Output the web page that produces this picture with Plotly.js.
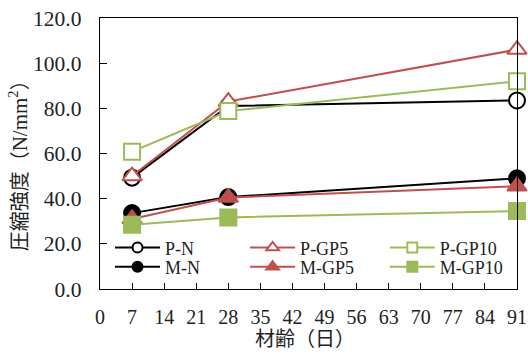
<!DOCTYPE html>
<html><head><meta charset="utf-8">
<script src="https://cdn.plot.ly/plotly-3.0.1.min.js"></script>
<style>body{margin:0;background:#fff}#c{width:528px;height:355px}</style>
</head><body><div id="c"></div>
<script>
const days = [7, 28, 91];
const seriesNames = ["P-N", "P-GP5", "P-GP10", "M-N", "M-GP5", "M-GP10"];
const pN = [49.3, 81.0, 83.5];
const pGP5 = [50.0, 83.0, 106.0];
const pGP10 = [60.8, 78.8, 92.0];
const mN = [33.6, 40.7, 49.0];
const mGP5 = [31.0, 40.5, 45.5];
const mGP10 = [28.5, 31.7, 34.5];
const xTicks = [0, 7, 14, 21, 28, 35, 42, 49, 56, 63, 70, 77, 84, 91];
const yTicks = [0, 20, 40, 60, 80, 100, 120];
const xTitle = "材齢（日）";
const yTitle = "圧縮強度（<span style=\"font-family:Liberation Serif;font-size:21px\">N/mm<sup>2</sup></span>）";

const black = "#000000", red = "#C0504D", green = "#9BBB59";
const series = [
  {name: seriesNames[0], y: pN, color: black, symbol: "circle", filled: false},
  {name: seriesNames[1], y: pGP5, color: red, symbol: "triangle-up", filled: false},
  {name: seriesNames[2], y: pGP10, color: green, symbol: "square", filled: false},
  {name: seriesNames[3], y: mN, color: black, symbol: "circle", filled: true},
  {name: seriesNames[4], y: mGP5, color: red, symbol: "triangle-up", filled: true},
  {name: seriesNames[5], y: mGP10, color: green, symbol: "square", filled: true}
];
const data = [];
series.forEach(s => {
  data.push({x: days, y: s.y, name: s.name, type: "scatter", mode: "lines+markers", showlegend: false,
    line: {color: s.color, width: 2},
    marker: {symbol: s.symbol, size: s.symbol === "triangle-up" ? 17 : 16, color: s.filled ? s.color : "#ffffff",
      line: {color: s.color, width: 2}}, cliponaxis: false});
});
// legend-only entries (no data marks drawn)
series.forEach((s, i) => {
  data.push({x: [null], y: [null], yaxis: "y2", name: s.name, type: "scatter", mode: "lines+markers", showlegend: true,
    legend: i === 0 ? "legend" : "legend" + (i + 1),
    line: {color: s.color, width: 2},
    marker: {symbol: s.symbol, size: s.symbol === "triangle-up" ? 11 : 10, color: s.filled ? s.color : "#ffffff",
      line: {color: s.color, width: 2}}});
});

const serif = "Liberation Serif, Times New Roman, serif";
const cjk = "Noto Sans CJK JP, sans-serif";
const colX = [0.024, 0.348, 0.683];
const rowY = [0.152, 0.081];
function leg(i) {
  return {orientation: "h", bgcolor: "rgba(0,0,0,0)", font: {family: serif, size: 18, color: "#222"},
    itemwidth: 45,
    x: colX[i % 3], y: rowY[Math.floor(i / 3)], xanchor: "left", yanchor: "middle", borderwidth: 0};
}
const layout = {
  width: 528, height: 355,
  margin: {l: 100, r: 11, t: 18, b: 66},
  paper_bgcolor: "#fff", plot_bgcolor: "#fff",
  font: {family: serif, size: 20, color: "#222"},
  showlegend: true,
  xaxis: {range: [0, 91], tickvals: xTicks, ticktext: xTicks.map(String), ticks: "inside", ticklen: 6, tickcolor: "#000",
    showline: true, linecolor: "#000", linewidth: 1.3, mirror: true, showgrid: false, zeroline: false, automargin: false,
    ticklabelstandoff: 10,
    tickfont: {family: serif, size: 20, color: "#222"}},
  yaxis: {range: [0, 120], tickvals: yTicks, ticktext: yTicks.map(v => v.toFixed(1)), ticks: "outside", ticklen: 13, tickcolor: "rgba(0,0,0,0)",
    showline: true, linecolor: "#000", linewidth: 1.3, mirror: true, showgrid: false, zeroline: false, automargin: false,
    tickfont: {family: serif, size: 21.5, color: "#222"}},
  yaxis2: {range: [0, 120], overlaying: "y", side: "left", tickvals: yTicks, ticks: "inside", ticklen: 7, tickcolor: "#000", tickwidth: 1,
    showticklabels: false, showline: false, showgrid: false, zeroline: false, automargin: false},
  annotations: [
    {text: xTitle, xref: "paper", yref: "paper", x: 0.492, y: -0.178, xanchor: "center", yanchor: "middle", showarrow: false,
      font: {family: cjk, size: 20, color: "#222"}},
    {text: yTitle, xref: "paper", yref: "paper", x: -0.196, y: 0.472, xanchor: "center", yanchor: "middle", showarrow: false, textangle: -90,
      font: {family: cjk, size: 20, color: "#222"}}
  ]
};
for (let i = 0; i < 6; i++) layout[i === 0 ? "legend" : "legend" + (i + 1)] = leg(i);
Plotly.newPlot("c", data, layout, {displayModeBar: false, staticPlot: true});
</script></body></html>
